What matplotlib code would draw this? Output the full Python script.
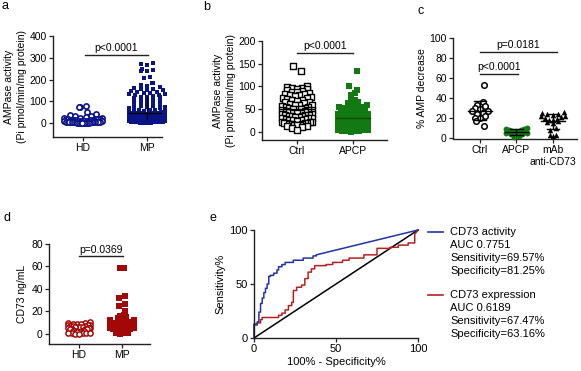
import numpy as np
import matplotlib
matplotlib.use("Agg")
import matplotlib.pyplot as plt
from matplotlib.lines import Line2D

plt.rcParams['font.family'] = ['Liberation Sans', 'DejaVu Sans']

# ---- data ----
# a: AMPase activity, HD vs MP
a_groups = ["HD", "MP"]
a_hd = [78, 75, 72, 50, 40, 36, 34, 31, 28, 25, 22, 21, 20, 19, 18, 18, 17, 16, 15, 15,
        14, 13, 12, 12, 11, 10, 10, 10, 9, 9, 8, 8, 7, 7, 6, 6, 6, 5, 5, 5, 4, 4, 4, 3,
        3, 3, 2, 2, 2, 1, 1, 1, 0, 0]
a_mp = [275, 272, 268, 248, 244, 240, 237, 212, 206, 186, 182, 176, 170, 166, 162, 158,
        155, 152, 150, 148, 145, 142, 140, 138, 135, 132, 130, 128, 125, 122, 120, 118,
        115, 112, 110, 105, 100, 98, 95, 90, 88, 85, 82, 80, 78, 75, 72, 70, 68, 65, 62,
        60, 58, 56, 55, 52, 50, 48, 47, 46, 45, 44, 43, 42, 41, 40, 40, 39, 38, 38, 37,
        36, 35, 35, 34, 33, 32, 31, 30, 30, 29, 28, 27, 26, 25, 25, 24, 23, 22, 21, 20,
        20, 19, 18, 17, 16, 15, 15, 14, 13, 12, 11, 10, 10, 9, 8, 8, 7, 6, 6, 5, 5, 4,
        4, 3, 3, 2, 2, 1, 1, 0, 0]

# b: AMPase activity, Ctrl vs APCP
b_groups = ["Ctrl", "APCP"]
b_ctrl = [145, 133, 100, 98, 97, 96, 95, 94, 92, 90, 88, 87, 85, 84, 83, 82, 80, 78, 76,
          75, 74, 72, 70, 70, 68, 66, 65, 64, 62, 60, 60, 58, 57, 55, 55, 53, 52, 50, 50,
          50, 49, 48, 47, 45, 45, 44, 42, 42, 41, 40, 40, 38, 38, 37, 35, 35, 34, 32, 32,
          31, 30, 30, 28, 28, 27, 25, 25, 24, 22, 22, 21, 20, 20, 20, 19, 18, 18, 17, 15,
          15, 14, 12, 12, 10, 8, 5]
b_apcp = [135, 100, 92, 85, 80, 70, 68, 65, 63, 60, 58, 55, 55, 53, 52, 50, 50, 48, 47,
          45, 45, 43, 42, 40, 40, 39, 38, 37, 35, 35, 34, 33, 32, 30, 30, 29, 28, 27, 26,
          25, 25, 24, 23, 22, 22, 21, 20, 20, 19, 18, 18, 17, 16, 15, 15, 14, 13, 12, 12,
          11, 10, 10, 10, 9, 8, 8, 7, 6, 5, 5, 5, 4, 3, 3, 2, 2, 1, 1, 0]

# c: % AMP decrease
c_groups = ["Ctrl", "APCP", "mAb\nanti-CD73"]
c_ctrl = [53, 36, 33, 32, 30, 29, 27, 27, 25, 24, 22, 20, 20, 17, 12]
c_apcp = [10, 9, 9, 8, 8, 7, 6, 6, 5, 5, 4, 4, 3, 2, 1]
c_mab = [26, 25, 24, 24, 23, 22, 22, 21, 20, 19, 18, 18, 17, 16, 15, 10, 8, 3, 3, 2]

# d: CD73 ng/mL
d_groups = ["HD", "MP"]
d_hd = [11, 10, 10, 9, 9, 9, 8, 8, 8, 7, 7, 7, 6, 6, 6, 6, 5, 5, 5, 5, 5, 4, 4, 4, 4, 4,
        4, 3, 3, 3, 3, 3, 3, 2, 2, 2, 2, 2, 2, 1, 1, 1, 1, 1, 0, 0]
d_mp = [59, 59, 34, 32, 27, 25, 20, 17, 16, 15, 14, 13, 12, 12, 11, 10, 10, 9, 9, 8, 8, 8,
        7, 7, 7, 6, 6, 6, 6, 5, 5, 5, 5, 5, 4, 4, 4, 4, 4, 3, 3, 3, 3, 3, 2, 2, 2, 2, 1, 1,
        1, 0]

# e: ROC curves (100% - specificity, sensitivity)
act_fpr = [0, 0, 2, 2, 3, 3, 4, 4, 5, 5, 6, 6, 7, 7, 8, 8, 9, 9, 10, 10, 12, 12, 14, 14,
           15, 15, 17, 17, 19, 19, 24, 24, 30, 30, 36, 36, 38, 38, 100]
act_tpr = [0, 13, 13, 15, 15, 24, 24, 32, 32, 37, 37, 42, 42, 46, 46, 50, 50, 57, 57, 58,
           58, 60, 60, 63, 63, 66, 66, 68, 68, 70, 70, 72, 72, 74, 74, 76, 76, 77, 100]
exp_fpr = [0, 0, 2, 2, 4, 4, 5, 5, 15, 15, 17, 17, 19, 19, 21, 21, 23, 23, 24, 24, 26, 26,
           29, 29, 31, 31, 33, 33, 35, 35, 37, 37, 44, 44, 48, 48, 54, 54, 58, 58, 67, 67,
           75, 75, 83, 83, 88, 88, 94, 94, 98, 98, 100]
exp_tpr = [0, 12, 12, 14, 14, 17, 17, 19, 19, 21, 21, 23, 23, 26, 26, 30, 30, 33, 33, 44,
           44, 47, 47, 49, 49, 55, 55, 61, 61, 64, 64, 67, 67, 68, 68, 70, 70, 72, 72, 74,
           74, 77, 77, 83, 83, 84, 84, 86, 86, 88, 88, 96, 100]
act_text = ["CD73 activity", "AUC 0.7751", "Sensitivity=69.57%", "Specificity=81.25%"]
exp_text = ["CD73 expression", "AUC 0.6189", "Sensitivity=67.47%", "Specificity=63.16%"]

NAVY = '#0a1488'
GREEN = '#137a13'
DRED = '#a30808'
BLUE = '#2233a8'
RED = '#b52222'

W, H = 581, 371
fig = plt.figure(figsize=(W / 100, H / 100), dpi=100)


def px_axes(l, t, r, b):
    return fig.add_axes([l / W, 1 - b / H, (r - l) / W, (b - t) / H])


def style(ax, fs=7.5):
    for s in ['top', 'right']:
        ax.spines[s].set_visible(False)
    for s in ['left', 'bottom']:
        ax.spines[s].set_linewidth(1)
        ax.spines[s].set_color('#222222')
    ax.tick_params(length=3, width=0.9, labelsize=fs, pad=1.5, color='#222222')


def swarm(ax, x0, vals, binh, step, maxw, **kw):
    # GraphPad-like scatter: points binned into rows, spread sideways
    vals = np.asarray(vals, float)
    rows = np.round(vals / binh).astype(int)
    xs = np.zeros_like(vals)
    flip = 1
    for r in np.unique(rows):
        idx = np.where(rows == r)[0]
        n = len(idx)
        if n == 1:
            # lone points alternate a little left / right
            xs[idx] = x0 + flip * step * 0.8 if r > 0 else x0
            flip = -flip
            continue
        s = min(step, 2 * maxw / (n - 1))
        offs = (np.arange(n) - (n - 1) / 2) * s
        offs = offs[np.argsort(np.abs(offs), kind='stable')]
        idx = idx[np.argsort(vals[idx])]
        xs[idx] = x0 + offs
    ax.scatter(xs, vals, clip_on=False, zorder=3, **kw)


def sig(ax, x1, x2, y, txt, dy, fs=7.5):
    ax.plot([x1, x2], [y, y], color='#222222', lw=1, clip_on=False)
    ax.text((x1 + x2) / 2, y + dy, txt, ha='center', va='bottom', fontsize=fs)


def centre_line(ax, x, mid, lo, hi, hw, cw, color='k'):
    ax.plot([x - hw, x + hw], [mid, mid], color=color, lw=1, zorder=4)
    ax.plot([x, x], [lo, hi], color=color, lw=1, zorder=4)
    if cw:
        ax.plot([x - cw, x + cw], [lo, lo], color=color, lw=1, zorder=4)
        ax.plot([x - cw, x + cw], [hi, hi], color=color, lw=1, zorder=4)


# ---- panel a ----
ax = px_axes(53, 36, 162, 137)
style(ax)
ax.set_xlim(-0.468, 1.235)
ax.set_ylim(-64, 400)
ax.set_yticks([0, 100, 200, 300, 400])
ax.set_xticks([0, 1])
ax.set_xticklabels(a_groups)
swarm(ax, 0, a_hd, 16, 0.08, 0.29, marker='o', s=14, facecolors='white',
      edgecolors=NAVY, linewidths=1.2)
swarm(ax, 1, a_mp, 16, 0.1, 0.28, marker='s', s=12, color=NAVY, linewidths=0)
q1, med, q3 = np.percentile(a_mp, [25, 50, 75])
centre_line(ax, 1, med, q1, q3, 0.28, 0)
sig(ax, 0.03, 1.02, 313, 'p<0.0001', 8)
ax.set_ylabel('AMPase activity\n(Pi pmol/min/mg protein)', fontsize=7.5, labelpad=2,
              linespacing=1.3)
fig.text(2 / W, 1 - 6 / H, 'a', fontsize=9, va='center', ha='left')

# ---- panel b ----
ax = px_axes(262, 41, 387, 140)
style(ax)
ax.set_xlim(-0.625, 1.607)
ax.set_ylim(-18, 200)
ax.set_yticks([0, 50, 100, 150, 200])
ax.set_xticks([0, 1])
ax.set_xticklabels(b_groups)
swarm(ax, 0, b_ctrl, 9, 0.085, 0.27, marker='s', s=13, facecolors='white',
      edgecolors='k', linewidths=1.0)
swarm(ax, 1, b_apcp, 9, 0.085, 0.27, marker='s', s=13, color=GREEN, linewidths=0)
centre_line(ax, 0, np.mean(b_ctrl), np.mean(b_ctrl), np.mean(b_ctrl), 0.3, 0)
centre_line(ax, 1, np.mean(b_apcp), np.mean(b_apcp), np.mean(b_apcp), 0.3, 0,
            color='#0a4a0a')
sig(ax, 0, 1, 174, 'p<0.0001', 4)
ax.set_ylabel('AMPase activity\n(Pi pmol/min/mg protein)', fontsize=7.5, labelpad=2,
              linespacing=1.3)
fig.text(203 / W, 1 - 7 / H, 'b', fontsize=9, va='center', ha='left')

# ---- panel c ----
ax = px_axes(453, 38, 577, 139)
style(ax)
ax.set_xlim(-0.74, 2.66)
ax.set_ylim(-1, 100)
ax.spines['left'].set_bounds(0, 100)
ax.set_yticks([0, 20, 40, 60, 80, 100])
ax.set_xticks([0, 1, 2])
ax.set_xticklabels(c_groups, linespacing=1.2)
swarm(ax, 0, c_ctrl, 5, 0.15, 0.33, marker='o', s=16, facecolors='white',
      edgecolors='k', linewidths=1.1)
swarm(ax, 1, c_apcp, 4, 0.15, 0.3, marker='o', s=18, color=GREEN, linewidths=0)
swarm(ax, 2, c_mab, 5, 0.15, 0.33, marker='^', s=16, color='k', linewidths=0)
for x0, v in [(0, c_ctrl), (1, c_apcp), (2, c_mab)]:
    m, sd = np.mean(v), np.std(v, ddof=1)
    centre_line(ax, x0, m, m - sd, m + sd, 0.32, 0.17)
sig(ax, 0, 1.05, 64, 'p<0.0001', 2.5)
sig(ax, 0, 2.1, 86, 'p=0.0181', 2.5)
ax.set_ylabel('% AMP decrease', fontsize=7.5, labelpad=2)
fig.text(417 / W, 1 - 11 / H, 'c', fontsize=9, va='center', ha='left')

# ---- panel d ----
ax = px_axes(49, 244, 150, 344)
style(ax)
ax.set_xlim(-0.697, 1.65)
ax.set_ylim(-9, 80)
ax.set_yticks([0, 20, 40, 60, 80])
ax.set_xticks([0, 1])
ax.set_xticklabels(d_groups)
swarm(ax, 0, d_hd, 3.5, 0.1, 0.26, marker='o', s=14, facecolors='white',
      edgecolors=DRED, linewidths=1.1)
swarm(ax, 1, d_mp, 3.5, 0.1, 0.28, marker='s', s=13, color=DRED, linewidths=0)
sig(ax, 0, 1.02, 69, 'p=0.0369', 1.5)
ax.set_ylabel('CD73 ng/mL', fontsize=7.5, labelpad=3)
fig.text(3 / W, 1 - 218 / H, 'd', fontsize=9, va='center', ha='left')

# ---- panel e ----
ax = px_axes(254, 230, 418, 338)
style(ax, fs=8)
ax.set_xlim(0, 100)
ax.set_ylim(0, 100)
ax.set_xticks([0, 50, 100])
ax.set_yticks([0, 50, 100])
ax.plot([0, 100], [0, 100], color='k', lw=1.1, clip_on=False)
ax.plot(exp_fpr, exp_tpr, color=RED, lw=1.1, clip_on=False)
ax.plot(act_fpr, act_tpr, color=BLUE, lw=1.1, clip_on=False)
ax.set_xlabel('100% - Specificity%', fontsize=8, labelpad=2)
ax.set_ylabel('Sensitivity%', fontsize=8, labelpad=3)
fig.text(209 / W, 1 - 218 / H, 'e', fontsize=9, va='center', ha='left')

for ytop, col, lines in [(232, BLUE, act_text), (295, RED, exp_text)]:
    fig.add_artist(Line2D([428 / W, 443 / W], [1 - ytop / H, 1 - ytop / H],
                          color=col, lw=1.2, transform=fig.transFigure))
    for i, t in enumerate(lines):
        fig.text(450 / W, 1 - (ytop + i * 13) / H, t, fontsize=8, va='center', ha='left')

fig.savefig('out.png', dpi=100)
